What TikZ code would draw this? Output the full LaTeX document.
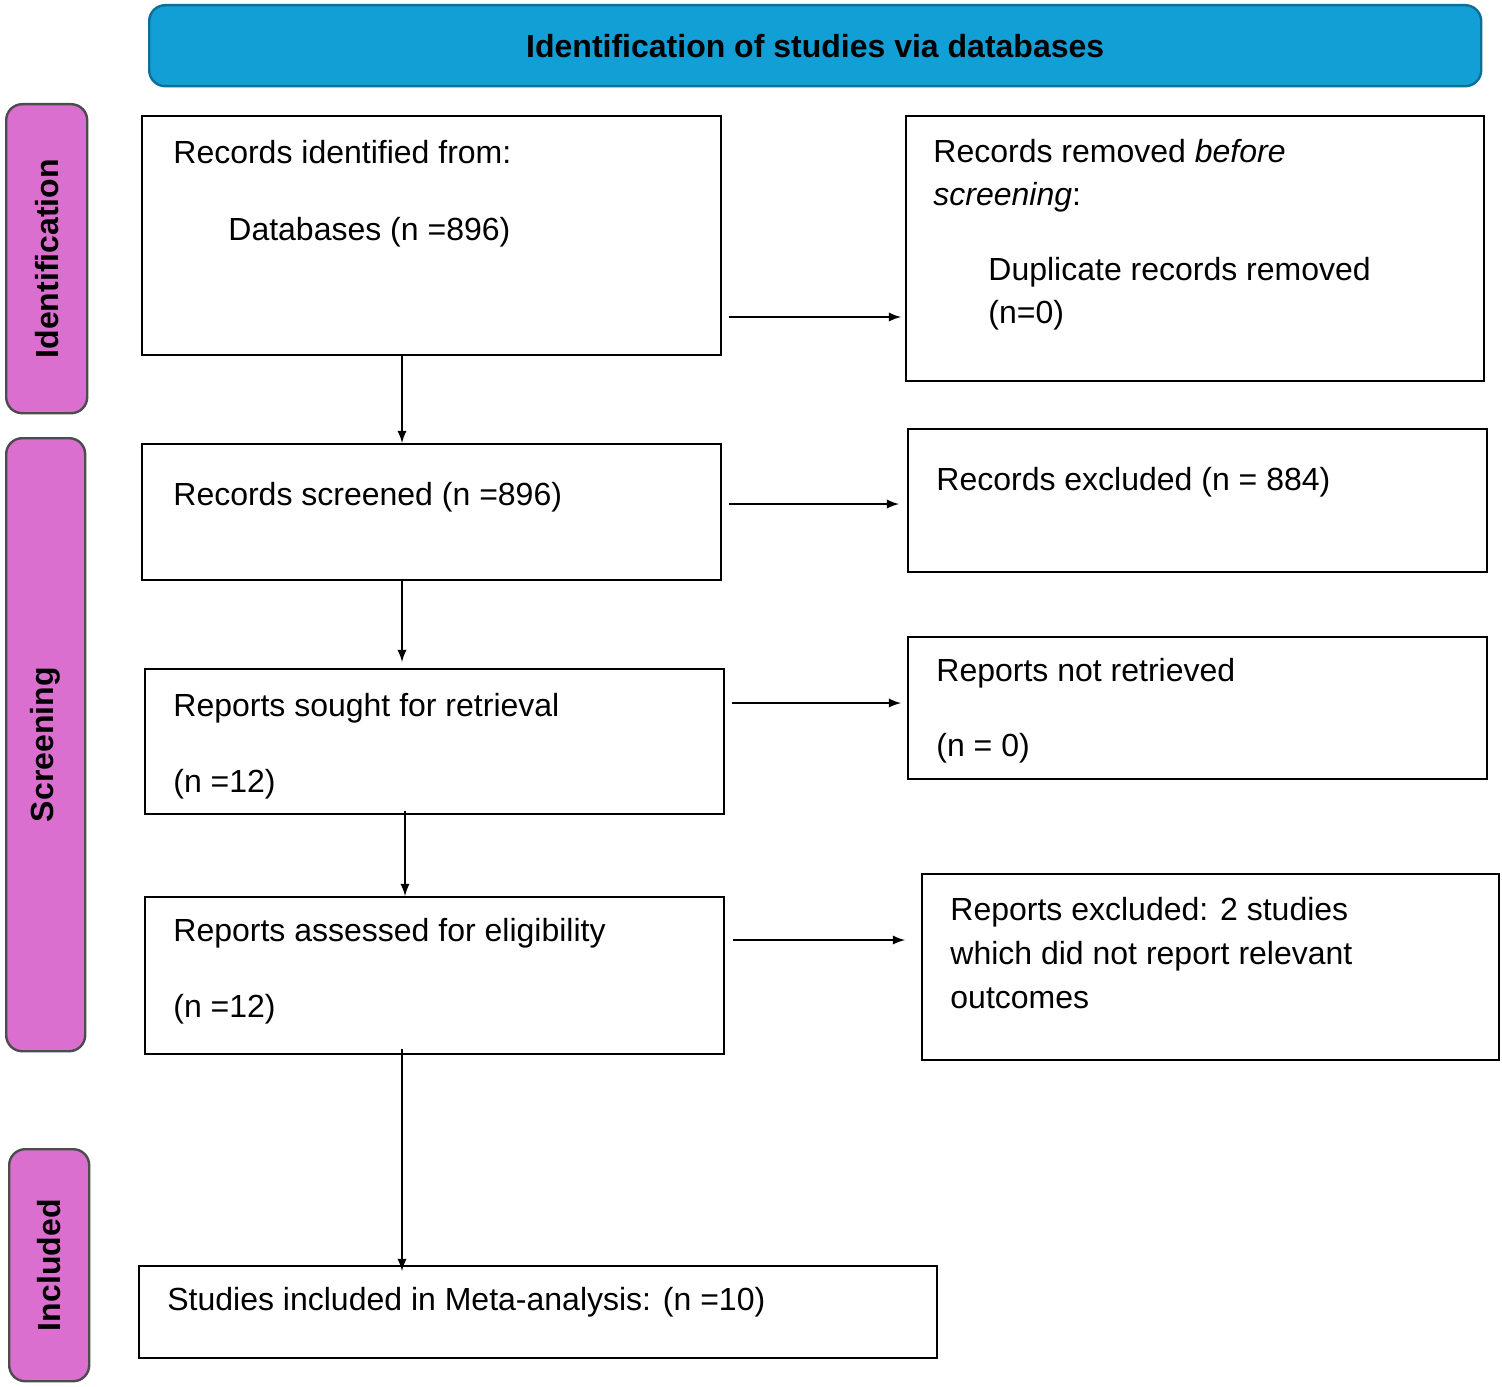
\documentclass[tikz,border=0pt]{standalone}
\usepackage{fontspec}
\setmainfont{Liberation Sans}
\begin{document}
\begin{tikzpicture}[x=0.5pt,y=-0.5pt,
 box/.style={draw,line width=1.2pt,anchor=north west,inner sep=0pt},
 side/.style={draw=black!70,line width=1.2pt,fill=orchidc,rounded corners=8pt,anchor=north west,inner sep=0pt},
 txt/.style={anchor=base west,inner sep=0pt,font=\fontsize{16}{21.5}\selectfont},
 lab/.style={rotate=90,font=\fontsize{16}{20}\selectfont\bfseries},
 arr/.style={-latex,line width=1.1pt}]
\definecolor{orchidc}{HTML}{DB6FD0}
\definecolor{headc}{HTML}{129FD6}
\useasboundingbox (0,0) rectangle (1502,1386);
\node[side,draw=headc!70!black,fill=headc,minimum width=1332*0.5pt,minimum height=81*0.5pt] (hd) at (148,4) {};
\node[font=\fontsize{16}{20}\selectfont\bfseries] at (hd.center) {Identification of studies via databases};
\node[side,minimum width=81*0.5pt,minimum height=309*0.5pt] (s1) at (5,103) {};
\node[side,minimum width=79*0.5pt,minimum height=613*0.5pt] (s2) at (5,437) {};
\node[side,minimum width=80*0.5pt,minimum height=232*0.5pt] (s3) at (8,1148) {};
\node[lab] at (s1.center) {Identification};
\node[lab] at (s2.center) {Screening};
\node[lab] at (s3.center) {Included};
\node[box,minimum width=579*0.5pt,minimum height=239*0.5pt] (A) at (141,115) {};
\node[box,minimum width=578*0.5pt,minimum height=265*0.5pt] (B) at (905,115) {};
\node[box,minimum width=579*0.5pt,minimum height=136*0.5pt] (C) at (141,443) {};
\node[box,minimum width=579*0.5pt,minimum height=143*0.5pt] (D) at (907,428) {};
\node[box,minimum width=579*0.5pt,minimum height=145*0.5pt] (E) at (144,668) {};
\node[box,minimum width=579*0.5pt,minimum height=142*0.5pt] (F) at (907,636) {};
\node[box,minimum width=579*0.5pt,minimum height=157*0.5pt] (G) at (144,896) {};
\node[box,minimum width=577*0.5pt,minimum height=186*0.5pt] (H) at (921,873) {};
\node[box,minimum width=798*0.5pt,minimum height=92*0.5pt] (I) at (138,1265) {};
\node[txt] at (173,163) {Records identified from:};
\node[txt] at (228,240) {Databases (n =896)};
\node[txt] at (933,162) {Records removed \textit{before}};
\node[txt] at (933,205) {\textit{screening}:};
\node[txt] at (988,280) {Duplicate records removed};
\node[txt] at (988,323) {(n=0)};
\node[txt] at (173,505) {Records screened (n =896)};
\node[txt] at (936,490) {Records excluded (n = 884)};
\node[txt] at (173,716) {Reports sought for retrieval};
\node[txt] at (173,792) {(n =12)};
\node[txt] at (936,681) {Reports not retrieved};
\node[txt] at (936,756) {(n = 0)};
\node[txt] at (173,941) {Reports assessed for eligibility};
\node[txt] at (173,1017) {(n =12)};
\node[txt] at (950,920) {Reports excluded: 2 studies};
\node[txt] at (950,964) {which did not report relevant};
\node[txt] at (950,1008) {outcomes};
\node[txt] at (167,1310) {Studies included in Meta-analysis: (n =10)};
\draw[arr] ([xshift=3.5pt]A.east |- 0,317) -- ([xshift=-2pt]B.west |- 0,317);
\draw[arr] ([xshift=3.5pt]C.east |- 0,504) -- ([xshift=-4pt]D.west |- 0,504);
\draw[arr] ([xshift=3.5pt]E.east |- 0,703) -- ([xshift=-3pt]F.west |- 0,703);
\draw[arr] ([xshift=4pt]G.east |- 0,940) -- ([xshift=-8pt]H.west |- 0,940);
\draw[arr] (A.south -| 402,0) -- (C.north -| 402,0);
\draw[arr] (C.south -| 402,0) -- ([yshift=3pt]E.north -| 402,0);
\draw[arr] ([yshift=2pt]E.south -| 405,0) -- (G.north -| 405,0);
\draw[arr] ([yshift=3pt]G.south -| 402,0) -- ([yshift=-3pt]I.north -| 402,0);
\end{tikzpicture}
\end{document}
